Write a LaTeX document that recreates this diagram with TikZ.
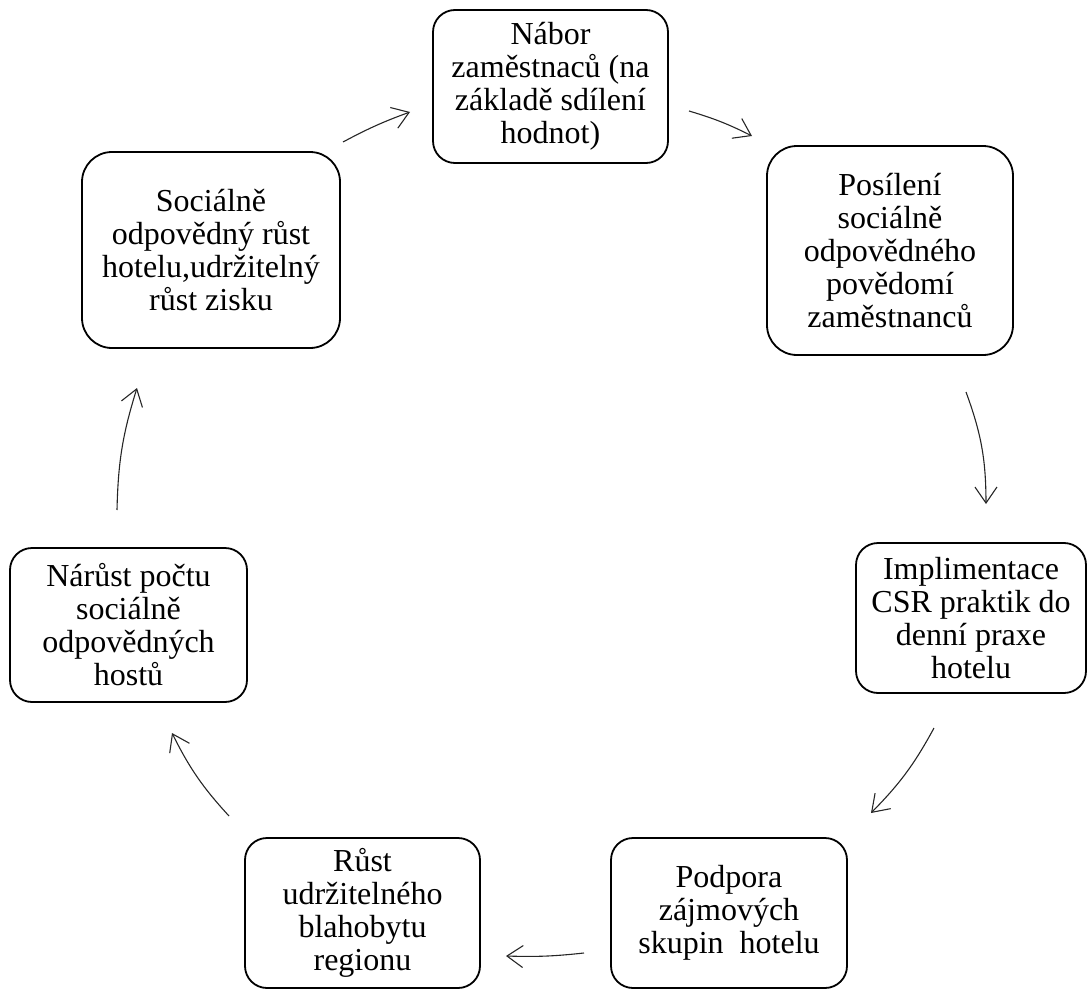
\documentclass[tikz,border=0pt]{standalone}
\usepackage{fontspec}
\setmainfont{Liberation Serif}
\usetikzlibrary{arrows.meta}
\tikzset{
	box/.style={draw, line width=1.8pt, rounded corners=22pt, align=center, inner sep=0pt, font=\fontsize{32}{33}\selectfont},
	bigbox/.style={box, rounded corners=30pt},
	arr/.style={draw=black!85, line width=1.1pt, -{Straight Barb[length=16pt,width=22pt]}}
}
\begin{document}
\begin{tikzpicture}[x=1pt,y=1pt]
\useasboundingbox (0,0) rectangle (1088,-990);

\node [box, minimum width=235pt, minimum height=153pt] (nabor) at (550.5,-86.5) {Nábor\\zaměstnaců (na\\základě sdílení\\hodnot)};
\node [bigbox, minimum width=246pt, minimum height=209pt] (posileni) at (890,-250.5) {Posílení\\sociálně\\odpovědného\\povědomí\\zaměstnanců};
\node [box, minimum width=230pt, minimum height=150pt] (implementace) at (971,-618) {Implimentace\\CSR praktik do\\denní praxe\\hotelu};
\node [box, minimum width=236pt, minimum height=150pt] (podpora) at (729,-913) {Podpora\\zájmových\\skupin~ hotelu};
\node [box, minimum width=235pt, minimum height=150pt] (rust) at (362.5,-913) {Růst\\udržitelného\\blahobytu\\regionu};
\node [box, minimum width=237pt, minimum height=154pt] (narust) at (128.5,-625) {Nárůst počtu\\sociálně\\odpovědných\\hostů};
\node [bigbox, minimum width=258pt, minimum height=196pt] (socialne) at (211,-250) {Sociálně\\odpovědný růst\\hotelu,udržitelný\\růst zisku};

\foreach \n/\x/\y in {a1/343/142, b1/410/112, a2/689/111, b2/752/136, a3/966/392, b3/986/504, a4/934/728, b4/871/813, a5/584/953, b5/506/956, a6/229/816, b6/172/733, a7/117/510, b7/137/388}
	\coordinate (\n) at (\x,-\y);

\foreach \i/\b in {1/4,2/5,3/10,4/8,5/4,6/8,7/8}
	\draw [arr] (a\i) to[bend left=\b] (b\i);

\end{tikzpicture}
\end{document}
